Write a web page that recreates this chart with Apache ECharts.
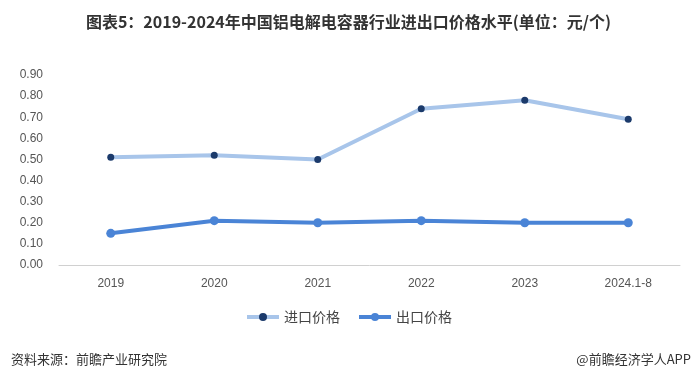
<!DOCTYPE html>
<html>
<head>
<meta charset="utf-8">
<script src="https://cdn.jsdelivr.net/npm/echarts@6/dist/echarts.min.js"></script>
<style>
  html, body { margin: 0; padding: 0; background: #fff; }
  #chart { width: 697px; height: 377px; }
</style>
</head>
<body>
<div id="chart"></div>
<script>
var years = ['2019', '2020', '2021', '2022', '2023', '2024.1-8'];
var importPrice = [0.51, 0.52, 0.50, 0.74, 0.78, 0.69];
var exportPrice = [0.15, 0.21, 0.20, 0.21, 0.20, 0.20];
var yTicks = [0, 0.9, 0.1];

var chart = echarts.init(document.getElementById('chart'));
chart.setOption({
    animation: false,
    title: [{
        text: '图表5：2019-2024年中国铝电解电容器行业进出口价格水平(单位：元/个)',
        left: 'center',
        top: 9,
        textStyle: {
            fontFamily: '"Liberation Sans Narrow", "Noto Sans CJK SC"',
            fontSize: 16,
            fontWeight: 'bold',
            color: '#333'
        }
    }, {
        text: '资料来源：前瞻产业研究院',
        left: 6,
        top: 348,
        textStyle: { fontFamily: '"Noto Sans CJK SC"', fontSize: 13, fontWeight: 'normal', color: '#333' }
    }, {
        text: '@前瞻经济学人APP',
        right: 1,
        top: 348,
        textStyle: { fontFamily: '"Noto Sans CJK SC"', fontSize: 13, fontWeight: 'normal', color: '#333' }
    }],
    grid: {
        left: 59,
        right: 17,
        top: 75,
        bottom: 112,
        containLabel: false
    },
    legend: {
        bottom: 48,
        left: 'center',
        itemWidth: 32,
        itemHeight: 10,
        itemGap: 17,
        lineStyle: { width: 4 },
        textStyle: { fontFamily: '"Noto Sans CJK SC"', fontSize: 14, color: '#444' },
        data: ['进口价格', '出口价格']
    },
    xAxis: {
        type: 'category',
        data: years,
        boundaryGap: true,
        axisLine: { lineStyle: { color: '#d0d0d0' } },
        axisTick: { show: false },
        axisLabel: { fontFamily: 'Arial, "Liberation Sans"', fontSize: 12, color: '#555', margin: 13 }
    },
    yAxis: {
        type: 'value',
        min: yTicks[0],
        max: yTicks[1],
        interval: yTicks[2],
        splitLine: { show: false },
        axisLine: { show: false },
        axisTick: { show: false },
        axisLabel: {
            fontFamily: 'Arial, "Liberation Sans"',
            fontSize: 12,
            color: '#555',
            margin: 16,
            formatter: function (v) { return v.toFixed(2); }
        }
    },
    series: [{
        name: '进口价格',
        type: 'line',
        data: importPrice,
        symbol: 'circle',
        symbolSize: 7,
        lineStyle: { color: '#a8c5ea', width: 4 },
        itemStyle: { color: '#1b3a6b' }
    }, {
        name: '出口价格',
        type: 'line',
        data: exportPrice,
        symbol: 'circle',
        symbolSize: 9,
        lineStyle: { color: '#4a84d6', width: 4 },
        itemStyle: { color: '#4a84d6' }
    }]
});
</script>
</body>
</html>
